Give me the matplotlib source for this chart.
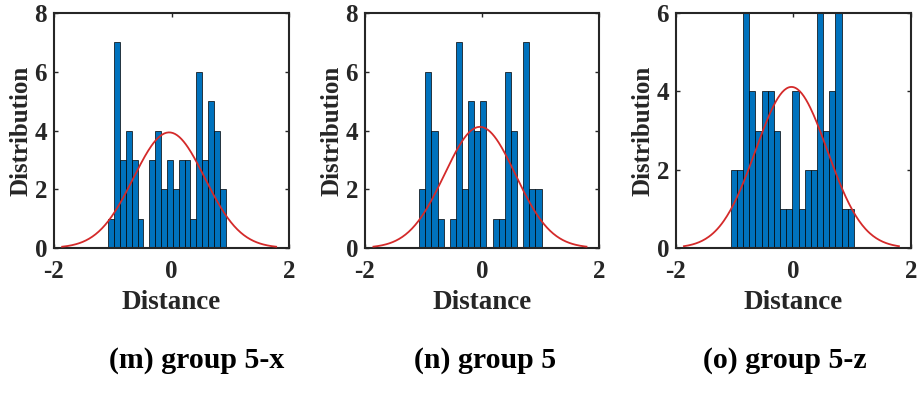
import numpy as np
import matplotlib
matplotlib.use("Agg")
import matplotlib.pyplot as plt

# ---- data ----
counts_m = [1, 7, 3, 4, 3, 1, 0, 3, 4, 2, 3, 2, 3, 3, 1, 6, 3, 5, 4, 2]
counts_n = [2, 6, 4, 1, 0, 1, 7, 2, 5, 4, 5, 0, 1, 1, 6, 4, 0, 7, 2, 2]
counts_o = [2, 2, 6, 4, 3, 4, 4, 3, 1, 1, 4, 1, 2, 2, 6, 3, 4, 6, 1, 1]
range_m = (-1.076, 0.920)
range_n = (-1.074, 1.018)
range_o = (-1.067, 1.029)
fit_m = (-0.04, 0.607)   # (mean, std) of fitted normal
fit_n = (-0.035, 0.607)
fit_o = (-0.035, 0.610)
captions = ["(m) group 5-x", "(n) group 5", "(o) group 5-z"]
ylims = [8, 8, 6]
yticks_list = [[0, 2, 4, 6, 8], [0, 2, 4, 6, 8], [0, 2, 4, 6]]
xticks = [-2, 0, 2]

plt.rcParams['font.family'] = ['Liberation Serif', 'DejaVu Serif']
plt.rcParams['font.weight'] = 'bold'
plt.rcParams['axes.unicode_minus'] = False

W, H = 920, 394
fig = plt.figure(figsize=(W / 100, H / 100), dpi=100)

axes_px = [(54, 289), (365, 599), (676, 911)]
caption_x = [197, 485, 785]
top_px, bot_px = 13, 248

panels = [(counts_m, range_m, fit_m), (counts_n, range_n, fit_n), (counts_o, range_o, fit_o)]
bar_color = '#0072BD'
curve_color = '#d42a2a'
txt = '#262626'

for i, ((counts, rng, fit), (x0, x1)) in enumerate(zip(panels, axes_px)):
    ax = fig.add_axes([x0 / W, 1 - bot_px / H, (x1 - x0) / W, (bot_px - top_px) / H])
    counts = np.array(counts)
    nb = len(counts)
    edges = np.linspace(rng[0], rng[1], nb + 1)
    width = edges[1] - edges[0]
    ax.bar(edges[:-1], counts, width=width, align='edge', color=bar_color,
           edgecolor='black', linewidth=0.5, zorder=2)
    mu, sd = fit
    n = counts.sum()
    xs = np.linspace(mu - 3 * sd, mu + 3 * sd, 200)
    ys = n * width * np.exp(-0.5 * ((xs - mu) / sd) ** 2) / (sd * np.sqrt(2 * np.pi))
    ax.plot(xs, ys, color=curve_color, linewidth=1.3, zorder=3)
    ax.set_xlim(-2, 2)
    ax.set_ylim(0, ylims[i])
    ax.set_xticks(xticks)
    ax.set_yticks(yticks_list[i])
    ax.tick_params(direction='in', length=3, width=1.0, top=True, right=True,
                   labelsize=18, colors=txt, labelcolor=txt)
    ax.tick_params(axis='x', pad=9)
    ax.tick_params(axis='y', pad=5)
    for lab in ax.get_xticklabels() + ax.get_yticklabels():
        lab.set_fontweight('bold')
    for s in ax.spines.values():
        s.set_linewidth(1.5)
        s.set_color(txt)
    ax.set_xlabel('Distance', fontsize=19.5, fontweight='bold', labelpad=5, color=txt)
    ax.set_ylabel('Distribution', fontsize=18, fontweight='bold', labelpad=1.5, color=txt)
    fig.text(caption_x[i] / W, 1 - 360 / H, captions[i], ha='center', va='center',
             fontsize=21.5, fontweight='bold', color='black')

fig.savefig('out.png', dpi=100, facecolor='white')
